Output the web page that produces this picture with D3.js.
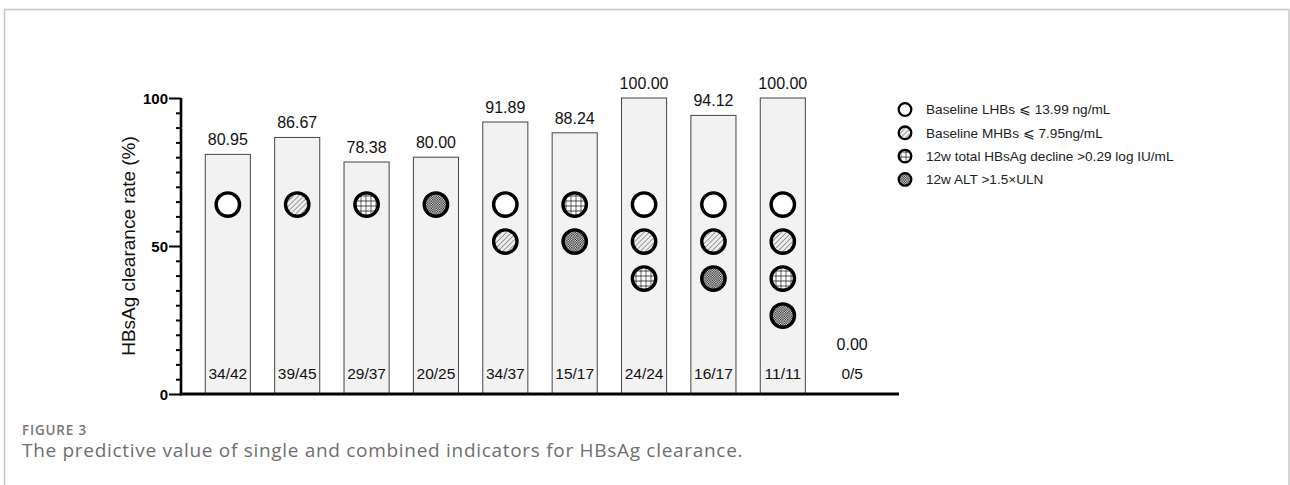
<!DOCTYPE html>
<html>
<head>
<meta charset="utf-8">
<script src="https://cdn.jsdelivr.net/npm/d3@7"></script>
<style>
  body { margin: 0; background: #fff; }
  svg { display: block; }
  .frame { fill: none; stroke: #c8c8c8; stroke-width: 1.5; }
</style>
</head>
<body>
<div id="chart"></div>
<script>
// values
const groups = ["G1", "G2", "G3", "G4", "G5", "G6", "G7", "G8", "G9", "G10"];
const rates = [80.95, 86.67, 78.38, 80.00, 91.89, 88.24, 100.00, 94.12, 100.00, 0.00];
const fractions = ["34/42", "39/45", "29/37", "20/25", "34/37", "15/17", "24/24", "16/17", "11/11", "0/5"];
const combos = [
    ["lhb"], ["mhb"], ["decline"], ["alt"],
    ["lhb", "mhb"], ["decline", "alt"],
    ["lhb", "mhb", "decline"], ["lhb", "mhb", "alt"],
    ["lhb", "mhb", "decline", "alt"], []
];
const indicatorKeys = ["lhb", "mhb", "decline", "alt"];
const indicatorLabels = [
    "Baseline LHBs \u2A7D 13.99 ng/mL",
    "Baseline MHBs \u2A7D 7.95ng/mL",
    "12w total HBsAg decline >0.29 log IU/mL",
    "12w ALT >1.5\u00D7ULN"
];
const yTicks = [0, 50, 100];

const width = 1290, height = 485;
const font = "Liberation Sans, Arial, sans-serif";

const svg = d3.select("#chart").append("svg")
    .attr("width", width).attr("height", height);

// patterns for the indicator markers
const defs = svg.append("defs");

const hatch = defs.append("pattern").attr("id", "pat-mhb")
    .attr("patternUnits", "userSpaceOnUse").attr("width", 3.6).attr("height", 3.6)
    .attr("patternTransform", "rotate(45)");
hatch.append("rect").attr("width", 3.6).attr("height", 3.6).attr("fill", "#eeeeee");
hatch.append("line").attr("x1", 0).attr("y1", 0).attr("x2", 0).attr("y2", 3.6)
    .attr("stroke", "#555").attr("stroke-width", 1.1);

const grid = defs.append("pattern").attr("id", "pat-decline")
    .attr("patternUnits", "userSpaceOnUse").attr("width", 5).attr("height", 5)
    .attr("x", 0.5).attr("y", 0.5);
grid.append("rect").attr("width", 5).attr("height", 5).attr("fill", "#fff");
grid.append("path").attr("d", "M0,0H5M0,0V5").attr("stroke", "#111").attr("stroke-width", 1.3);

const dots = defs.append("pattern").attr("id", "pat-alt")
    .attr("patternUnits", "userSpaceOnUse").attr("width", 2.4).attr("height", 2.4);
dots.append("rect").attr("width", 2.4).attr("height", 2.4).attr("fill", "#f4f4f4");
dots.append("rect").attr("width", 1.2).attr("height", 1.2).attr("fill", "#111");
dots.append("rect").attr("x", 1.2).attr("y", 1.2).attr("width", 1.2).attr("height", 1.2).attr("fill", "#111");

const fillFor = {
    lhb: "#fff",
    mhb: "url(#pat-mhb)",
    decline: "url(#pat-decline)",
    alt: "url(#pat-alt)"
};

// page frame
svg.append("rect").attr("class", "frame")
    .attr("x", 4.5).attr("y", 9.5).attr("width", 1284.5).attr("height", 500);

const x = d3.scaleBand().domain(groups).range([181, 899]).padding(0.35);
const y = d3.scaleLinear().domain([0, 100]).range([394, 98]);
// marker rows, in % units of the y axis
const slot = d3.scaleLinear().domain([0, 3]).range([64, 26.5]);

const chart = svg.append("g");

// bars
chart.selectAll("rect.bar")
    .data(groups.filter((g, i) => rates[i] > 0))
    .join("rect")
    .attr("class", "bar")
    .attr("x", d => x(d))
    .attr("y", d => y(rates[groups.indexOf(d)]))
    .attr("width", x.bandwidth())
    .attr("height", d => y(0) - y(rates[groups.indexOf(d)]))
    .attr("fill", "#f2f2f2")
    .attr("stroke", "#444")
    .attr("stroke-width", 1);

// value labels
chart.selectAll("text.val")
    .data(groups)
    .join("text")
    .attr("class", "val")
    .attr("x", d => x(d) + x.bandwidth() / 2)
    .attr("y", (d, i) => rates[i] > 0 ? y(rates[i]) - 9 : y(15))
    .attr("text-anchor", "middle")
    .attr("font-family", font)
    .attr("font-size", 16)
    .attr("fill", "#111")
    .text((d, i) => rates[i].toFixed(2));

// fraction labels
chart.selectAll("text.frac")
    .data(groups)
    .join("text")
    .attr("class", "frac")
    .attr("x", d => x(d) + x.bandwidth() / 2)
    .attr("y", y(5.2))
    .attr("text-anchor", "middle")
    .attr("font-family", font)
    .attr("font-size", 15.5)
    .attr("fill", "#111")
    .text((d, i) => fractions[i]);

// indicator markers
groups.forEach((g, i) => {
    chart.selectAll(null)
        .data(combos[i])
        .join("circle")
        .attr("cx", x(g) + x.bandwidth() / 2)
        .attr("cy", (d, k) => y(slot(k)))
        .attr("r", 11.7)
        .attr("fill", d => fillFor[d])
        .attr("stroke", "#000")
        .attr("stroke-width", 3.4);
});

// y axis
const yAxis = chart.append("g")
    .attr("transform", "translate(181,0)")
    .call(d3.axisLeft(y).tickValues(d3.range(0, 101, 5)).tickSize(5).tickFormat(""));
yAxis.select(".domain").attr("stroke", "#000").attr("stroke-width", 2.6)
    .attr("d", `M0,${y(0) + 1.3}V${y(100)}`);
yAxis.selectAll(".tick line").attr("stroke", "#000").attr("stroke-width", 2)
    .attr("x2", d => yTicks.includes(d) ? -12 : -5);
yAxis.selectAll(".tick")
    .filter(d => yTicks.includes(d))
    .append("text")
    .attr("x", -13).attr("dy", "0.36em")
    .attr("text-anchor", "end")
    .attr("fill", "#000")
    .attr("font-family", font)
    .attr("font-weight", "bold")
    .attr("font-size", 15)
    .text(d => d);

// x baseline
chart.append("line")
    .attr("x1", x.range()[0] - 1.3).attr("x2", x.range()[1])
    .attr("y1", y(0)).attr("y2", y(0))
    .attr("stroke", "#000").attr("stroke-width", 2.8);

// y title
chart.append("text")
    .attr("transform", `translate(135,${(y(0) + y(100)) / 2}) rotate(-90)`)
    .attr("text-anchor", "middle")
    .attr("font-family", font)
    .attr("font-size", 19)
    .attr("fill", "#111")
    .text("HBsAg clearance rate (%)");

// legend
const legend = svg.append("g").attr("transform", "translate(905,109.5)");
const rows = legend.selectAll("g")
    .data(indicatorKeys)
    .join("g")
    .attr("transform", (d, i) => `translate(0,${i * 23.3})`);
rows.append("circle")
    .attr("r", 6.3)
    .attr("fill", d => fillFor[d])
    .attr("stroke", "#000")
    .attr("stroke-width", 2.3);
rows.append("text")
    .attr("x", 21).attr("dy", "0.35em")
    .attr("font-family", font)
    .attr("font-size", 13.6)
    .attr("fill", "#222")
    .text((d, i) => indicatorLabels[i]);

// caption
svg.append("text")
    .attr("x", 22).attr("y", 435)
    .attr("font-family", "Open Sans, sans-serif")
    .attr("font-weight", 600)
    .attr("font-size", 13.5)
    .attr("letter-spacing", 0.8)
    .attr("fill", "#777")
    .text("FIGURE 3");
svg.append("text")
    .attr("x", 22).attr("y", 457)
    .attr("font-family", "Open Sans, sans-serif")
    .attr("font-size", 19)
    .attr("letter-spacing", 0.7)
    .attr("fill", "#6e6e6e")
    .text("The predictive value of single and combined indicators for HBsAg clearance.");
</script>
</body>
</html>
